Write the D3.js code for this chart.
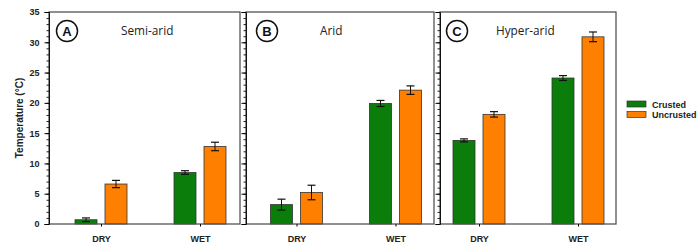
<!DOCTYPE html>
<html lang="en">

<head>
  <meta charset="UTF-8">
  <title>Temperature by crust</title>
  <script src="https://cdn.jsdelivr.net/npm/d3@7"></script>
  <style>
    body {
      margin: 0;
      background: white;
    }

    svg text {
      font-family: "Liberation Sans", Arial, sans-serif;
    }
  </style>
</head>

<body>
  <div id="chart"></div>
  <script>
    // data
    const seasons = ['DRY', 'WET']
    const series = ['Crusted', 'Uncrusted']
    const colors = ['#0a7d0a', '#ff8000']
    const panelLetters = ['A', 'B', 'C']
    const panelTitles = ['Semi-arid', 'Arid', 'Hyper-arid']
    const yTicks = [0, 5, 10, 15, 20, 25, 30, 35]

    // [DRY, WET] per panel
    const crustedMean = [[0.7, 8.5], [3.2, 19.9], [13.8, 24.1]]
    const crustedErr = [[0.3, 0.3], [0.9, 0.5], [0.25, 0.4]]
    const uncrustedMean = [[6.6, 12.8], [5.2, 22.1], [18.1, 30.9]]
    const uncrustedErr = [[0.6, 0.7], [1.2, 0.7], [0.45, 0.8]]

    const width = 698
    const height = 252
    const plotTop = 12
    const plotBottom = 224

    // panel frames: left, right, first category centre, letter offset, title start
    const panels = [
      { left: 49, right: 240, first: 101, letterX: 18, titleX: 72 },
      { left: 246, right: 434, first: 296.5, letterX: 21, titleX: 74 },
      { left: 440, right: 616, first: 479, letterX: 17, titleX: 56 }
    ]

    const svg = d3.select('#chart')
      .append('svg')
      .attr('width', width)
      .attr('height', height)

    const yScale = d3.scaleLinear()
      .domain([0, 35])
      .range([plotBottom, plotTop])

    panels.forEach((p, i) => {
      const xScale = d3.scalePoint()
        .domain(seasons)
        .range([p.first, p.first + 99])

      const g = svg.append('g')

      const rows = seasons.map((s, j) => ({
        season: s,
        vals: [
          { k: 0, m: crustedMean[i][j], e: crustedErr[i][j] },
          { k: 1, m: uncrustedMean[i][j], e: uncrustedErr[i][j] }
        ]
      }))

      const barW = 22
      const offsets = [-26, 4]

      rows.forEach(r => {
        const cx = xScale(r.season)
        r.vals.forEach(v => {
          g.append('rect')
            .attr('x', cx + offsets[v.k])
            .attr('y', yScale(v.m))
            .attr('width', barW)
            .attr('height', yScale(0) - yScale(v.m))
            .attr('fill', colors[v.k])
            .attr('stroke', '#333')
            .attr('stroke-width', 0.8)

          const ex = cx + offsets[v.k] + barW / 2
          g.append('line')
            .attr('x1', ex).attr('x2', ex)
            .attr('y1', yScale(v.m - v.e)).attr('y2', yScale(v.m + v.e))
            .attr('stroke', '#111').attr('stroke-width', 1)
          ;[v.m - v.e, v.m + v.e].forEach(y => {
            g.append('line')
              .attr('x1', ex - 4).attr('x2', ex + 4)
              .attr('y1', yScale(y)).attr('y2', yScale(y))
              .attr('stroke', '#111').attr('stroke-width', 1.2)
          })
        })
      })

      // frame
      g.append('rect')
        .attr('x', p.left)
        .attr('y', plotTop)
        .attr('width', p.right - p.left)
        .attr('height', plotBottom - plotTop)
        .attr('fill', 'none')
        .attr('stroke', '#555')
        .attr('stroke-width', 1.3)

      // minor ticks
      g.append('g')
        .attr('transform', `translate(${p.left},0)`)
        .call(d3.axisLeft(yScale).ticks(35).tickSize(2.5).tickFormat(''))
        .call(a => a.select('.domain').remove())
        .selectAll('line').attr('stroke', '#222')

      // major ticks
      const yAxis = g.append('g')
        .attr('transform', `translate(${p.left},0)`)
        .call(d3.axisLeft(yScale).tickValues(yTicks).tickSize(4.5).tickFormat(i === 0 ? d3.format('d') : ''))
      yAxis.select('.domain').attr('stroke', '#111')
      yAxis.selectAll('text')
        .attr('font-size', 9)
        .attr('font-weight', 'bold')
        .attr('fill', '#222')
        .attr('dx', -2)

      // bottom axis
      const xAxis = g.append('g')
        .attr('transform', `translate(0,${plotBottom})`)
        .call(d3.axisBottom(xScale).tickSize(2.5).tickPadding(9))
      xAxis.select('.domain').remove()
      xAxis.selectAll('text')
        .attr('font-size', 9)
        .attr('font-weight', 'bold')
        .attr('fill', '#222')

      // panel letter and title
      g.append('circle')
        .attr('cx', p.left + p.letterX)
        .attr('cy', 31)
        .attr('r', 10.5)
        .attr('fill', 'white')
        .attr('stroke', '#111')
        .attr('stroke-width', 1.5)
      g.append('text')
        .attr('x', p.left + p.letterX)
        .attr('y', 35.5)
        .attr('text-anchor', 'middle')
        .attr('font-size', 13)
        .attr('font-weight', 'bold')
        .attr('fill', '#111')
        .text(panelLetters[i])
      g.append('text')
        .attr('x', p.left + p.titleX)
        .attr('y', 35)
        .attr('font-size', 11.8)
        .style('font-family', '"Open Sans", sans-serif')
        .attr('fill', '#222')
        .text(panelTitles[i])
    })

    svg.append('text')
      .attr('transform', `translate(23,${(plotTop + plotBottom) / 2}) rotate(-90)`)
      .attr('text-anchor', 'middle')
      .attr('font-size', 10)
      .attr('font-weight', 'bold')
      .attr('fill', '#222')
      .text('Temperature (°C)')

    // legend
    const legend = svg.append('g')
      .attr('transform', 'translate(627,101)')
    series.forEach((s, k) => {
      legend.append('rect')
        .attr('x', 0)
        .attr('y', k * 10.5)
        .attr('width', 19)
        .attr('height', 6)
        .attr('fill', colors[k])
        .attr('stroke', '#333')
        .attr('stroke-width', 0.7)
      legend.append('text')
        .attr('x', 25)
        .attr('y', k * 10.5 + 6.5)
        .attr('font-size', 9)
        .attr('font-weight', 'bold')
        .attr('fill', '#222')
        .text(s)
    })
  </script>
</body>

</html>
